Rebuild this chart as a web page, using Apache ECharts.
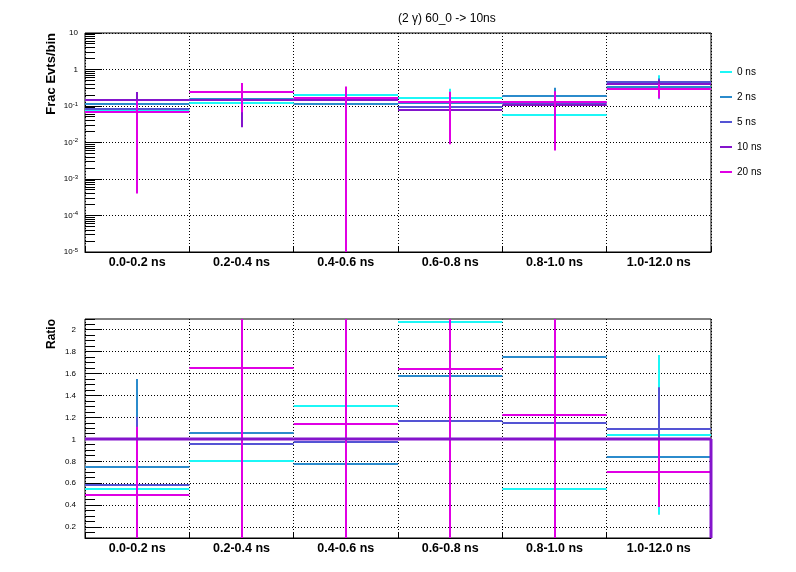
<!DOCTYPE html>
<html><head><meta charset="utf-8">
<script src="https://cdn.jsdelivr.net/npm/echarts@6/dist/echarts.min.js"></script>
<style>html,body{margin:0;padding:0;background:#fff}#c{width:796px;height:572px}</style>
</head><body><div id="c"></div>
<script>
// ---------- data ----------
const categories = ['0.0-0.2 ns','0.2-0.4 ns','0.4-0.6 ns','0.6-0.8 ns','0.8-1.0 ns','1.0-12.0 ns'];
const seriesNames = ['0 ns','2 ns','5 ns','10 ns','20 ns'];
const seriesColors = ['#1cf7f7','#2b8bcc','#5454d4','#8414cc','#e000e4'];

// top panel: fraction of events per bin, with symmetric errors
const frac0ns  = [0.078, 0.121, 0.194, 0.162, 0.058, 0.423];
const frac2ns  = [0.111, 0.158, 0.115, 0.124, 0.183, 0.342];
const frac5ns  = [0.084, 0.144, 0.145, 0.091, 0.121, 0.448];
const frac10ns = [0.143, 0.150, 0.148, 0.078, 0.105, 0.407];
const frac20ns = [0.070, 0.247, 0.170, 0.128, 0.129, 0.285];
const fracErr0ns  = [0.050, 0.050, 0.100, 0.135, 0.040, 0.270];
const fracErr2ns  = [0.080, 0.080, 0.080, 0.090, 0.133, 0.100];
const fracErr5ns  = [0.060, 0.090, 0.100, 0.060, 0.080, 0.120];
const fracErr10ns = [0.097, 0.124, 0.100, 0.060, 0.080, 0.100];
const fracErr20ns = [0.0696, 0.180, 0.170, 0.119, 0.123, 0.125];

// bottom panel: ratio to 10 ns
const ratio0ns  = [0.545, 0.800, 1.305, 2.076, 0.547, 1.042];
const ratio2ns  = [0.749, 1.060, 0.776, 1.584, 1.749, 0.840];
const ratio5ns  = [0.587, 0.957, 0.980, 1.171, 1.153, 1.097];
const ratio10ns = [1, 1, 1, 1, 1, 1];
const ratio20ns = [0.492, 1.654, 1.143, 1.639, 1.226, 0.703];
const ratioErr0ns  = [0.45, 0.60, 0.90, 1.40, 0.50, 0.73];
const ratioErr2ns  = [0.804, 0.70, 0.60, 1.10, 1.20, 0.30];
const ratioErr5ns  = [0.62, 0.70, 0.70, 0.90, 0.90, 0.38];
const ratioErr20ns = [0.624, 1.60, 1.15, 1.60, 1.20, 0.32];

// axis ticks
const logDecades = [-5, -4, -3, -2, -1, 0, 1];
const logMinorMultipliers = [2, 3, 4, 5, 6, 7, 8, 9];
const ratioMajorTicks = [0.2, 0.4, 0.6, 0.8, 1.0, 1.2, 1.4, 1.6, 1.8, 2.0];
const ratioMinorTicks = [0.1, 0.15, 0.25, 0.3, 0.35, 0.45, 0.5, 0.55, 0.65, 0.7, 0.75, 0.85, 0.9, 0.95,
  1.05, 1.1, 1.15, 1.25, 1.3, 1.35, 1.45, 1.5, 1.55, 1.65, 1.7, 1.75, 1.85, 1.9, 1.95, 2.05, 2.1];

const logMinorTicks = [];
logDecades.slice(0, -1).forEach(d => logMinorMultipliers.forEach(m => logMinorTicks.push(m * Math.pow(10, d))));

// ---------- helpers ----------
const FONT = 'Liberation Sans, Arial, Helvetica, sans-serif';
const crisp = v => Math.round(v - 0.5) + 0.5;

function histSeries(name, color, vals, errs, gi, isLog, z) {
  return {
    name, type: 'custom', xAxisIndex: gi, yAxisIndex: gi, z,
    itemStyle: { color },
    data: vals.map((v, i) => [i, v, errs ? errs[i] : 0]),
    encode: { x: 0, y: 1 },
    renderItem: (params, api) => {
      const i = api.value(0), v = api.value(1), e = api.value(2);
      const cs = params.coordSys;
      const c = api.coord([i, v]);
      const w = api.size([1, 0], [i, v])[0];
      const clampY = y => Math.max(cs.y, Math.min(cs.y + cs.height, y));
      const y0 = Math.round(c[1]);
      const children = [{
        type: 'line',
        shape: { x1: c[0] - w / 2, y1: y0, x2: c[0] + w / 2, y2: y0 },
        style: { stroke: color, lineWidth: 2 }
      }];
      if (e > 0) {
        const lo = v - e, hi = v + e;
        const yLo = (isLog && lo <= 0) ? cs.y + cs.height : api.coord([i, lo])[1];
        const yHi = api.coord([i, hi])[1];
        children.push({
          type: 'line',
          shape: { x1: Math.round(c[0]), y1: clampY(yLo), x2: Math.round(c[0]), y2: clampY(yHi) },
          style: { stroke: color, lineWidth: 2 }
        });
      }
      return { type: 'group', children };
    }
  };
}

function refSeries(name, color, vals, gi, z) {
  const last = vals.length - 1;
  return {
    name, type: 'custom', xAxisIndex: gi, yAxisIndex: gi, z,
    itemStyle: { color },
    data: vals.map((v, i) => [i, v]),
    encode: { x: 0, y: 1 },
    renderItem: (params, api) => {
      const i = api.value(0), v = api.value(1);
      const cs = params.coordSys;
      const c = api.coord([i, v]);
      const w = api.size([1, 0], [i, v])[0];
      const y0 = Math.round(c[1]);
      const children = [{
        type: 'line',
        shape: { x1: c[0] - w / 2, y1: y0, x2: c[0] + w / 2, y2: y0 },
        style: { stroke: color, lineWidth: 3 }
      }];
      if (i === last) {
        const yb = Math.min(cs.y + cs.height, api.coord([i, 0])[1]);
        children.push({
          type: 'line',
          shape: { x1: c[0] + w / 2, y1: y0, x2: c[0] + w / 2, y2: yb },
          style: { stroke: color, lineWidth: 3 }
        });
      }
      return { type: 'group', children };
    }
  };
}

function tickSeries(values, len, gi, dotted) {
  return {
    type: 'custom', xAxisIndex: gi, yAxisIndex: gi, z: 1, silent: true,
    data: values.map(v => [0, v]),
    encode: { x: 0, y: 1 },
    renderItem: (params, api) => {
      const cs = params.coordSys;
      const y = crisp(api.coord([0, api.value(1)])[1]);
      return {
        type: 'line',
        shape: { x1: cs.x, y1: y, x2: cs.x + (dotted ? cs.width : len), y2: y },
        style: dotted ? { stroke: '#000', lineWidth: 1, lineDash: [1, 2] } : { stroke: '#000', lineWidth: 1 }
      };
    }
  };
}

const grids = [
  { left: 85, right: 85, top: 33, height: 219, show: true, borderColor: '#000', borderWidth: 1 },
  { left: 85, right: 85, top: 319, height: 219, show: true, borderColor: '#000', borderWidth: 1 }
];

const xAxes = [0, 1].map(gi => ({
  type: 'category', gridIndex: gi, data: categories, boundaryGap: true,
  axisLine: { lineStyle: { color: '#000', width: 1 } },
  axisTick: { show: true, inside: true, length: 5, lineStyle: { color: '#000' } },
  splitLine: { show: true, lineStyle: { color: '#000', width: 1, type: [1, 2] } },
  axisLabel: { fontFamily: 'Liberation Sans Narrow, ' + FONT, fontWeight: 'bold', fontSize: 12.5, color: '#000', margin: 4 }
}));

const yAxes = [
  {
    type: 'log', gridIndex: 0, logBase: 10, min: 1e-5, max: 10, interval: 1,
    axisLine: { lineStyle: { color: '#000' } },
    axisTick: { show: true, inside: true, length: 17, lineStyle: { color: '#000' } },
    splitLine: { show: true, lineStyle: { color: '#000', width: 1, type: [1, 2] } },
    axisLabel: {
      margin: 7, color: '#000', fontFamily: FONT, fontSize: 8,
      formatter: v => {
        const ex = Math.round(Math.log10(v));
        if (ex === 1) return '10';
        if (ex === 0) return '1';
        return '{b|10}{s|' + ex + '}';
      },
      rich: {
        b: { fontSize: 8, fontFamily: FONT, color: '#000', lineHeight: 10 },
        s: { fontSize: 6, fontFamily: FONT, color: '#000', verticalAlign: 'top', lineHeight: 10 }
      }
    }
  },
  {
    type: 'value', gridIndex: 1, min: 0.1, max: 2.1, interval: 0.1,
    axisLine: { lineStyle: { color: '#000' } },
    axisTick: { show: false },
    splitLine: { show: false },
    axisLabel: {
      margin: 9, color: '#000', fontFamily: FONT, fontSize: 8,
      showMinLabel: false, showMaxLabel: false,
      formatter: v => (Math.abs(v * 5 - Math.round(v * 5)) < 1e-6 ? String(+v.toFixed(1)) : '')
    }
  }
];

const fracSets = [
  [frac0ns, fracErr0ns], [frac2ns, fracErr2ns], [frac5ns, fracErr5ns], [frac10ns, fracErr10ns], [frac20ns, fracErr20ns]
];
const ratioSets = [
  [ratio0ns, ratioErr0ns], [ratio2ns, ratioErr2ns], [ratio5ns, ratioErr5ns], null, [ratio20ns, ratioErr20ns]
];

const series = [];
series.push(tickSeries(logMinorTicks, 10, 0, false));
series.push(tickSeries(ratioMajorTicks, 17, 1, false));
series.push(tickSeries(ratioMinorTicks, 10, 1, false));
series.push(tickSeries(ratioMajorTicks, 0, 1, true));
fracSets.forEach((s, k) => series.push(histSeries(seriesNames[k], seriesColors[k], s[0], s[1], 0, true, 10 + k)));
ratioSets.forEach((s, k) => { if (s) series.push(histSeries(seriesNames[k], seriesColors[k], s[0], s[1], 1, false, 10 + k)); });
series.push(refSeries(seriesNames[3], seriesColors[3], ratio10ns, 1, 20));

const chart = echarts.init(document.getElementById('c'), null, { renderer: 'canvas' });
chart.setOption({
  animation: false,
  backgroundColor: '#fff',
  textStyle: { fontFamily: FONT },
  title: {
    text: '(2 \u03b3) 60_0 -> 10ns', left: 393, top: 8,
    textStyle: { fontSize: 12, fontWeight: 'normal', color: '#000', fontFamily: FONT }
  },
  legend: {
    data: seriesNames, orient: 'vertical', left: 720, top: 66, padding: 0,
    icon: 'rect', itemWidth: 12, itemHeight: 2, itemGap: 13,
    textStyle: { fontSize: 10, color: '#000', fontFamily: FONT, lineHeight: 12 },
    selectedMode: false
  },
  grid: grids,
  xAxis: xAxes,
  yAxis: yAxes,
  series,
  graphic: [
    { type: 'text', x: 51, y: 33, rotation: Math.PI / 2,
      style: { text: 'Frac Evts/bin', font: 'bold 13px ' + FONT, fill: '#000', align: 'right', verticalAlign: 'middle' } },
    { type: 'text', x: 52, y: 319, rotation: Math.PI / 2,
      style: { text: 'Ratio', font: 'bold 12px ' + FONT, fill: '#000', align: 'right', verticalAlign: 'middle' } }
  ]
});
</script>
</body></html>
